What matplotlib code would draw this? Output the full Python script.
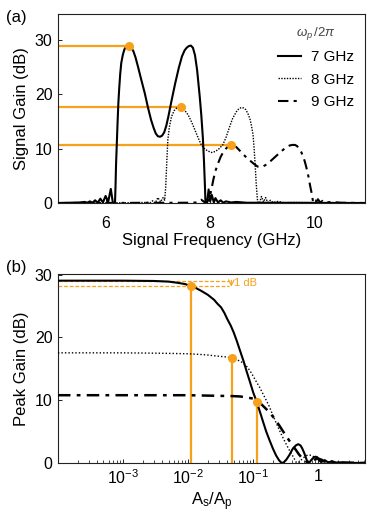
import matplotlib
matplotlib.use("Agg")
import matplotlib.pyplot as plt

plt.rcParams['font.family'] = ['Liberation Sans', 'DejaVu Sans']
plt.rcParams['mathtext.fontset'] = 'custom'
plt.rcParams['mathtext.rm'] = 'Liberation Sans'
plt.rcParams['mathtext.it'] = 'Liberation Sans:italic'

orange = '#F7A11A'

# ---- panel (a): signal gain vs frequency, one curve per pump frequency
f7 = [5.09, 5.3, 5.5, 5.6, 5.65, 5.7, 5.75, 5.8, 5.85, 5.9, 5.95, 6.0, 6.05, 6.1, 6.14,
      6.18, 6.19, 6.2, 6.215, 6.23, 6.245, 6.26, 6.28, 6.3, 6.33, 6.36, 6.4, 6.44, 6.48,
      6.53, 6.57, 6.62, 6.68, 6.75, 6.81, 6.87, 6.92, 6.96, 7.0, 7.04, 7.08, 7.12, 7.16,
      7.2, 7.26, 7.33, 7.4, 7.46, 7.51, 7.55, 7.59, 7.63, 7.67, 7.71, 7.75, 7.8, 7.83,
      7.86, 7.88, 7.9, 7.91, 7.94, 7.97, 8.0, 8.03, 8.07, 8.1, 8.15, 8.2, 8.25, 8.3,
      8.4, 8.5, 8.7, 9.0, 10.96]
g7 = [0.0, 0.05, 0.1, 0.2, 0.05, 0.3, 0.05, 0.5, 0.05, 0.8, 0.1, 1.3, 0.2, 2.6, 0.0,
      0.0, 3.0, 7.0, 11.0, 15.0, 18.5, 21.0, 23.8, 25.8, 27.3, 28.3, 28.85, 29.0, 28.8,
      28.0, 26.9, 25.1, 22.8, 20.2, 17.6, 15.3, 13.8, 12.8, 12.3, 12.2, 12.4, 13.0, 14.2,
      15.9, 18.8, 22.0, 24.9, 27.0, 28.1, 28.6, 28.9, 29.0, 28.6, 27.2, 24.5, 19.6, 16.2,
      12.0, 8.0, 3.0, 0.0, 0.0, 2.5, 0.3, 1.5, 0.1, 0.9, 0.1, 0.5, 0.05, 0.3,
      0.1, 0.2, 0.05, 0.05, 0.0]

f8 = [5.09, 6.5, 6.8, 6.85, 6.9, 6.95, 7.0, 7.05, 7.1, 7.13, 7.15, 7.17, 7.19, 7.22,
      7.26, 7.31, 7.36, 7.44, 7.51, 7.58, 7.65, 7.71, 7.77, 7.83, 7.89, 7.95, 8.03, 8.1,
      8.17, 8.24, 8.3, 8.37, 8.43, 8.5, 8.55, 8.6, 8.64, 8.68, 8.72, 8.76, 8.79, 8.82,
      8.84, 8.86, 8.88, 8.9, 8.91, 8.95, 8.98, 9.02, 9.06, 9.1, 9.15, 9.2, 9.3, 9.4,
      9.6, 10.96]
g8 = [0.0, 0.05, 0.1, 0.05, 0.4, 0.0, 1.0, 0.2, 1.0, 0.5, 3.0, 7.5, 11.6, 14.0,
      15.9, 17.0, 17.5, 17.6, 17.1, 16.2, 14.8, 13.4, 12.0, 10.7, 10.0, 9.6, 9.3, 9.5,
      10.0, 10.7, 12.0, 14.0, 15.6, 16.8, 17.4, 17.6, 17.5, 17.2, 16.5, 15.5, 14.2, 12.5,
      10.0, 7.0, 3.5, 1.0, 0.0, 0.2, 1.2, 0.2, 1.0, 0.1, 0.5, 0.1, 0.3, 0.05,
      0.1, 0.0]

f9 = [5.09, 7.6, 7.75, 7.83, 7.9, 7.97, 8.0, 8.03, 8.06, 8.1, 8.15, 8.2, 8.25, 8.3,
      8.35, 8.4, 8.45, 8.5, 8.55, 8.6, 8.65, 8.7, 8.8, 8.85, 8.91, 8.96, 9.02, 9.08,
      9.14, 9.22, 9.3, 9.37, 9.43, 9.52, 9.57, 9.62, 9.66, 9.7, 9.74, 9.78, 9.81, 9.84,
      9.88, 9.91, 9.94, 9.97, 10.02, 10.06, 10.1, 10.15, 10.2, 10.3, 10.5, 10.96]
g9 = [0.0, 0.05, 0.1, 0.6, 0.1, 0.5, 1.5, 2.8, 4.3, 5.9, 7.3, 8.5, 9.4, 10.0,
      10.5, 10.7, 10.6, 10.3, 9.8, 9.3, 8.8, 8.3, 7.5, 7.1, 6.7, 6.65, 6.8, 7.1,
      7.6, 8.3, 9.0, 9.6, 10.1, 10.6, 10.7, 10.7, 10.5, 10.0, 9.4, 8.5, 7.6, 6.5,
      4.8, 3.2, 1.8, 0.0, 0.1, 0.7, 0.1, 0.4, 0.05, 0.2, 0.05, 0.0]

# marked first peaks (frequency, gain)
peak_f = [6.44, 7.44, 8.40]
peak_g = [29.0, 17.6, 10.7]

# ---- panel (b): peak gain vs signal/pump amplitude ratio
r7 = [1e-4, 1e-3, 3e-3, 5e-3, 7e-3, 0.009, 0.011, 0.013, 0.016, 0.02, 0.025, 0.028,
      0.032, 0.036, 0.04, 0.045, 0.05, 0.056, 0.063, 0.071, 0.079, 0.089, 0.1, 0.113,
      0.126, 0.141, 0.158, 0.178, 0.2, 0.224, 0.25, 0.27, 0.29, 0.32, 0.36, 0.4, 0.45,
      0.49, 0.53, 0.56, 0.6, 0.63, 0.66, 0.69, 0.73, 0.78, 0.85, 0.9, 0.95, 1.0, 1.05,
      1.1, 1.18, 1.25, 1.32, 1.4, 1.5, 1.6, 1.7, 1.8, 2.0, 2.2, 2.6, 5.2]
p7 = [29.05, 29.05, 29.0, 28.9, 28.7, 28.5, 28.2, 27.9, 27.4, 26.8, 26.0, 25.4,
      24.8, 23.9, 22.9, 21.9, 20.8, 19.4, 17.8, 16.2, 14.6, 12.9, 11.2, 9.75,
      8.2, 6.6, 5.0, 3.6, 2.3, 1.2, 0.4, 0.05, 0.05, 0.5, 1.3, 2.2, 2.8,
      3.0, 2.8, 2.4, 1.7, 1.1, 0.5, 0.1, 0.1, 0.5, 0.9, 1.0, 0.95, 0.7, 0.35,
      0.15, 0.3, 0.45, 0.3, 0.1, 0.15, 0.3, 0.15, 0.05, 0.1, 0.1, 0.03, 0.0]

r8 = [1e-4, 1e-3, 3e-3, 0.006, 0.01, 0.015, 0.02, 0.03, 0.038, 0.047, 0.055, 0.063,
      0.071, 0.079, 0.089, 0.1, 0.112, 0.126, 0.141, 0.158, 0.178, 0.2, 0.224, 0.25,
      0.28, 0.32, 0.36, 0.41, 0.44, 0.46, 0.49, 0.52, 0.6, 0.66, 0.72, 0.8, 0.85, 0.95,
      1.05, 1.2, 1.4, 1.7, 5.2]
p8 = [17.55, 17.55, 17.5, 17.45, 17.4, 17.3, 17.2, 17.0, 16.9, 16.7, 16.5, 16.2,
      15.9, 15.4, 14.7, 13.8, 12.9, 12.0, 11.0, 10.0, 8.9, 7.6, 6.4, 5.3,
      4.2, 3.0, 2.0, 1.0, 0.4, 0.05, 0.05, 0.3, 0.9, 1.2, 1.3, 1.15, 1.0, 0.4,
      0.6, 0.5, 0.2, 0.1, 0.0]

r9 = [1e-4, 0.01, 0.03, 0.05, 0.063, 0.079, 0.1, 0.113, 0.126, 0.141, 0.158, 0.178,
      0.2, 0.224, 0.25, 0.28, 0.32, 0.36, 0.4, 0.45, 0.5, 0.56, 0.63, 0.67, 0.71, 0.8,
      0.9, 1.0, 1.12, 1.26, 1.5, 1.8, 5.2]
p9 = [10.8, 10.8, 10.7, 10.65, 10.6, 10.45, 10.25, 9.9, 9.6, 9.1, 8.6, 8.0,
      7.4, 6.7, 6.0, 5.2, 4.3, 3.5, 2.8, 2.1, 1.4, 0.8, 0.4, 0.1, 0.0, 0.3,
      0.6, 0.7, 0.5, 0.2, 0.3, 0.1, 0.0]

# 1 dB compression points
comp_r = [0.011, 0.047, 0.113]
comp_g = [28.2, 16.7, 9.75]

fig = plt.figure(figsize=(3.74, 5.12), dpi=100)
ax1 = fig.add_axes([0.155, 0.6035, 0.821, 0.369])
ax2 = fig.add_axes([0.155, 0.0957, 0.821, 0.369])

for ax in (ax1, ax2):
    for s in ax.spines.values():
        s.set_linewidth(0.8)
        s.set_color('#222222')
    ax.tick_params(direction='in', labelsize=11.5, length=3, width=0.6, pad=4)
    ax.tick_params(which='minor', direction='in', length=2, width=0.5)

# panel (a)
for f, g in zip(peak_f, peak_g):
    ax1.plot([5.09, f], [g, g], color=orange, lw=1.6, zorder=1)
ax1.plot(peak_f, peak_g, 'o', color=orange, ms=5.5, zorder=4)
ax1.plot(f7, g7, color='black', lw=1.5, label='7 GHz', zorder=3)
ax1.plot(f8, g8, color='black', lw=1.0, ls=(0, (1, 1)), label='8 GHz', zorder=3)
ax1.plot(f9, g9, color='black', lw=1.5, ls=(0, (5, 2.5, 1.5, 2.5)), label='9 GHz', zorder=3)
ax1.set_xlim(5.09, 10.96)
ax1.set_ylim(0, 34.8)
ax1.set_xticks([6, 8, 10])
ax1.set_yticks([0, 10, 20, 30])
ax1.tick_params(axis='x', pad=9)
ax1.set_xlabel('Signal Frequency (GHz)', fontsize=12, labelpad=2)
ax1.set_ylabel('Signal Gain (dB)', fontsize=12, labelpad=4)
leg = ax1.legend(loc='upper right', bbox_to_anchor=(1.0, 1.0), frameon=False,
                 fontsize=11, handlelength=1.5, handletextpad=0.7, labelspacing=0.55,
                 title=r'$\omega_p\,/2\pi$', title_fontsize=9.5, borderaxespad=0.3)
leg.get_title().set_color('#444444')
fig.text(0.015, 0.965, '(a)', fontsize=12, va='center')

# panel (b)
ax2.plot([1e-4, 0.042], [29.05, 29.05], color=orange, lw=0.9, ls=(0, (3, 1.5)), zorder=1)
ax2.plot([1e-4, 0.042], [28.2, 28.2], color=orange, lw=0.9, ls=(0, (3, 1.5)), zorder=1)
ax2.annotate('', xy=(0.046, 28.1), xytext=(0.046, 29.1),
             arrowprops=dict(arrowstyle='->', color=orange, lw=0.8, shrinkA=0, shrinkB=0))
ax2.text(0.05, 28.6, '1 dB', color=orange, fontsize=8, va='center', ha='left')
for r, g in zip(comp_r, comp_g):
    ax2.plot([r, r], [0, g], color=orange, lw=1.6, zorder=1)
ax2.plot(comp_r, comp_g, 'o', color=orange, ms=5.5, zorder=4)
ax2.plot(r7, p7, color='black', lw=1.5, zorder=3)
ax2.plot(r8, p8, color='black', lw=1.0, ls=(0, (1, 1.5)), zorder=3)
ax2.plot(r9, p9, color='black', lw=1.8, ls=(0, (5, 2.5, 1.5, 2.5)), zorder=3)
ax2.set_xscale('log')
ax2.set_xlim(1e-4, 5.2)
ax2.set_ylim(0, 30.1)
ax2.set_xticks([1e-3, 1e-2, 1e-1, 1])
ax2.set_xticklabels([r'$10^{-3}$', r'$10^{-2}$', r'$10^{-1}$', '1'])
ax2.set_yticks([0, 10, 20, 30])
ax2.set_xlabel(r'$\mathrm{A_s/A_p}$', fontsize=12, labelpad=2)
ax2.set_ylabel('Peak Gain (dB)', fontsize=12, labelpad=4)
fig.text(0.015, 0.477, '(b)', fontsize=12, va='center')

fig.savefig('out.png', dpi=100)
